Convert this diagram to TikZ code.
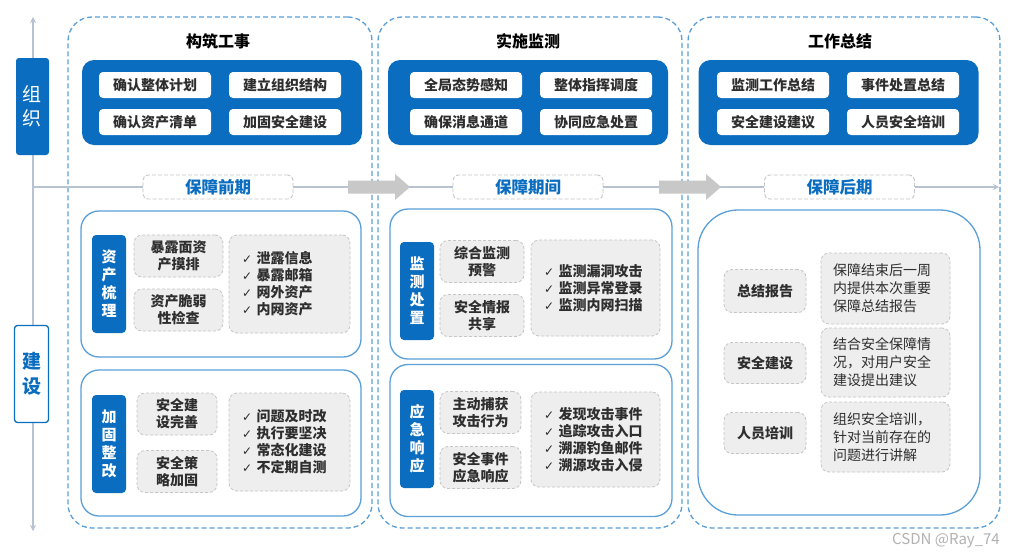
\documentclass[tikz,border=0pt]{standalone}
\usepackage{fontspec}
\setmainfont{Noto Sans CJK SC}
\newfontfamily\checkfont{DejaVu Sans}
\usetikzlibrary{positioning,arrows.meta}
\definecolor{MainBlue}{HTML}{0B6DBF}
\definecolor{FrameBlue}{HTML}{5A9FD8}
\definecolor{AxisClr}{HTML}{B7C3D0}
\definecolor{CellClr}{HTML}{EEEEEE}
\definecolor{CellLine}{HTML}{C6C6C6}
\definecolor{FlowClr}{HTML}{C8C8C8}
\definecolor{TxtClr}{HTML}{2E2E2E}
\newcommand{\ck}{{\checkfont\fontsize{12}{17}\selectfont ✓}\ }

\tikzset{
  stage/.style={draw=FrameBlue,line width=1.3pt,dash pattern=on 5pt off 3pt,rounded corners=24pt},
  axis/.style={draw=AxisClr,line width=1.5pt},
  title/.style={text=black,font=\bfseries\fontsize{16}{19}\selectfont},
  panel/.style={fill=MainBlue,rounded corners=12pt,minimum width=280pt,minimum height=85pt},
  task/.style={fill=white,rounded corners=4pt,minimum width=112pt,minimum height=26pt,inner sep=0pt,
    text=TxtClr,font=\bfseries\fontsize{14}{17}\selectfont},
  phase/.style={fill=white,draw=CellLine,line width=0.9pt,dash pattern=on 4pt off 2pt,rounded corners=5pt,
    minimum width=150pt,minimum height=24pt,inner sep=0pt,text=MainBlue,font=\bfseries\fontsize{16.5}{20}\selectfont},
  flowarrow/.style={fill=FlowClr},
  group/.style={draw=FrameBlue,line width=1.3pt,fill=white,rounded corners=18pt},
  tag/.style={fill=MainBlue,rounded corners=4pt,text=white,align=center,minimum width=34pt,minimum height=98pt,
    inner sep=0pt,font=\bfseries\fontsize{15}{18}\selectfont},
  cell/.style={fill=CellClr,draw=CellLine,line width=0.8pt,dash pattern=on 3pt off 2pt,rounded corners=8pt,
    align=center,inner sep=0pt,text=TxtClr,font=\bfseries\fontsize{14}{17}\selectfont},
  checks/.style={cell,align=left,inner xsep=13pt}
}

\begin{document}
\begin{tikzpicture}[x=1pt,y=-1pt]
\fill[white] (0,0) rectangle (1021,557);
\useasboundingbox (0,0) rectangle (1021,557);

\coordinate (axTop) at (33,17);
\coordinate (axBot) at (33,531);
\coordinate (axMid) at (33,187);
\coordinate (lnEnd) at (999,187);
\draw[axis,{Stealth[length=6pt,width=6pt]}-{Stealth[length=6pt,width=6pt]}] (axTop) -- (axBot);

\node[stage,minimum width=304pt,minimum height=511pt] (stage1) at (220,272.5) {};
\node[stage,minimum width=304pt,minimum height=511pt] (stage2) at (530,272.5) {};
\node[stage,minimum width=312pt,minimum height=511pt] (stage3) at (844,272.5) {};

\node[fill=MainBlue,rounded corners=3pt,minimum width=33pt,minimum height=97pt,inner sep=0pt,align=center,
  text=white,font=\fontsize{19}{24}\selectfont] (orgBox) at (32.5,106.5) {组\\织};
\node[fill=white,draw=MainBlue,line width=1.3pt,rounded corners=3pt,minimum width=34pt,minimum height=97pt,
  inner sep=0pt,align=center,text=MainBlue,font=\bfseries\fontsize{19}{25}\selectfont] (buildBox) at (31.5,374) {建\\设};

\node[title] (title1) at (218,41) {构筑工事};
\node[title] (title2) at (528,41) {实施监测};
\node[title] (title3) at (840,41) {工作总结};

\node[panel] (panel1) at (222,102.5) {};
\node[panel] (panel2) at (528,102.5) {};
\node[panel] (panel3) at (838.5,102.5) {};

\node[task] (task11) at (155,85) {确认整体计划};
\node[task] (task12) at (285,85) {建立组织结构};
\node[task] (task13) at (155,122) {确认资产清单};
\node[task] (task14) at (285,122) {加固安全建设};
\node[task] (task21) at (466,85) {全局态势感知};
\node[task] (task22) at (596,85) {整体指挥调度};
\node[task] (task23) at (466,122) {确保消息通道};
\node[task] (task24) at (596,122) {协同应急处置};
\node[task] (task31) at (773,85) {监测工作总结};
\node[task] (task32) at (903,85) {事件处置总结};
\node[task] (task33) at (773,122) {安全建设建议};
\node[task] (task34) at (903,122) {人员安全培训};

\node[phase] (phase1) at (218,187) {保障前期};
\node[phase] (phase2) at (528,187) {保障期间};
\node[phase] (phase3) at (839.5,187) {保障后期};
\draw[axis] (axMid) -- (phase1);
\draw[axis] (phase1) -- (phase2);
\draw[axis] (phase2) -- (phase3);
\draw[axis,-{Stealth[length=6pt,width=6pt]}] (phase3) -- (lnEnd);

\coordinate (flow1) at (348,187);
\coordinate (flow2) at (659,187);
\fill[flowarrow] (flow1) ++(0,-6.5) -- ++(47,0) -- ++(0,-6.5) -- ++(15,13) -- ++(-15,13) -- ++(0,-6.5) -- ++(-47,0) -- cycle;
\fill[flowarrow] (flow2) ++(0,-6.5) -- ++(47,0) -- ++(0,-6.5) -- ++(15,13) -- ++(-15,13) -- ++(0,-6.5) -- ++(-47,0) -- cycle;

% 保障前期
\node[group,minimum width=280pt,minimum height=146pt] (grp11) at (221,284) {};
\node[tag] (tag11) at (109,284) {资\\产\\梳\\理};
\node[cell,minimum width=89pt,minimum height=42pt] (cell111) at (178.5,256) {暴露面资\\产摸排};
\node[cell,minimum width=89pt,minimum height=42pt] (cell112) at (178.5,310) {资产脆弱\\性检查};
\node[checks,text width=95pt,minimum height=98pt] (list11) at (289.5,284)
  {\ck 泄露信息\\\ck 暴露邮箱\\\ck 网外资产\\\ck 内网资产};

\node[group,minimum width=280pt,minimum height=146pt] (grp12) at (221,443) {};
\node[tag] (tag12) at (109,444) {加\\固\\整\\改};
\node[cell,minimum width=80pt,minimum height=42pt] (cell121) at (177,414) {安全建\\设完善};
\node[cell,minimum width=80pt,minimum height=42pt] (cell122) at (177,471.5) {安全策\\略加固};
\node[checks,text width=95pt,minimum height=98pt] (list12) at (289.5,442)
  {\ck 问题及时改\\\ck 执行要坚决\\\ck 常态化建设\\\ck 不定期自测};

% 保障期间
\node[group,minimum width=282pt,minimum height=150pt] (grp21) at (531,284) {};
\node[tag] (tag21) at (417,291) {监\\测\\处\\置};
\node[cell,minimum width=84pt,minimum height=42pt] (cell211) at (482,261.5) {综合监测\\预警};
\node[cell,minimum width=84pt,minimum height=42pt] (cell212) at (482,315.5) {安全情报\\共享};
\node[checks,text width=103pt,minimum height=96pt] (list21) at (595.5,288)
  {\ck 监测漏洞攻击\\\ck 监测异常登录\\\ck 监测内网扫描};

\node[group,minimum width=282pt,minimum height=152pt] (grp22) at (531,440.5) {};
\node[tag] (tag22) at (417,439) {应\\急\\响\\应};
\node[cell,minimum width=81pt,minimum height=42pt] (cell221) at (480.5,412.5) {主动捕获\\攻击行为};
\node[cell,minimum width=81pt,minimum height=42pt] (cell222) at (480.5,467.5) {安全事件\\应急响应};
\node[checks,text width=103pt,minimum height=95pt] (list22) at (595.5,439.5)
  {\ck 发现攻击事件\\\ck 追踪攻击入口\\\ck 溯源钓鱼邮件\\\ck 溯源攻击入侵};

% 保障后期
\node[group,rounded corners=40pt,minimum width=282pt,minimum height=305pt] (grp31) at (839,362.5) {};
\node[cell,minimum width=82pt,minimum height=43pt] (cell311) at (765,291) {总结报告};
\node[cell,minimum width=82pt,minimum height=41pt] (cell312) at (765,363) {安全建设};
\node[cell,minimum width=82pt,minimum height=41pt] (cell313) at (765,433) {人员培训};
\node[checks,inner xsep=12pt,text width=105pt,minimum height=71pt,font=\fontsize{14}{18}\selectfont] (note311) at (885.5,288.5)
  {保障结束后一周\\内提供本次重要\\保障总结报告};
\node[checks,inner xsep=12pt,text width=105pt,minimum height=69pt,font=\fontsize{14}{18}\selectfont] (note312) at (885.5,362.5)
  {结合安全保障情\\况，对用户安全\\建设提出建议};
\node[checks,inner xsep=12pt,text width=105pt,minimum height=70pt,font=\fontsize{14}{18}\selectfont] (note313) at (885.5,437)
  {组织安全培训，\\针对当前存在的\\问题进行讲解};

\node[text=black!30,font=\fontsize{15}{15}\selectfont] (mark) at (946,541) {CSDN @Ray\_74};
\end{tikzpicture}
\end{document}
